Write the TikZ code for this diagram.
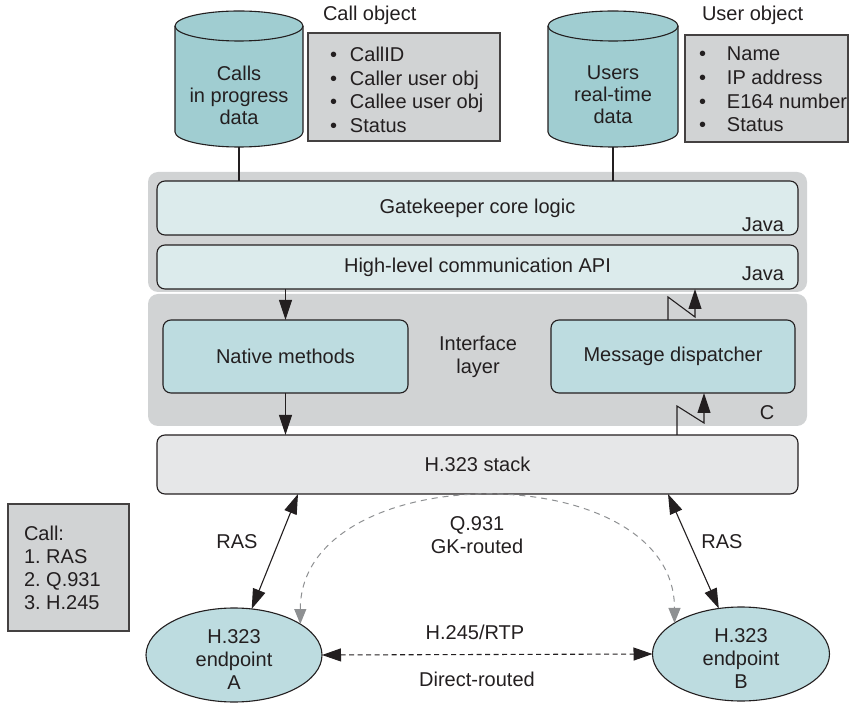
\documentclass[tikz,border=0pt]{standalone}
\usepackage{fontspec}
\setmainfont{Liberation Sans}
\usetikzlibrary{arrows.meta,shapes.geometric,calc}

\definecolor{ink}{HTML}{231F20}
\definecolor{panel}{HTML}{D1D3D4}
\definecolor{javabox}{HTML}{DCEBEC}
\definecolor{cbox}{HTML}{BDDCE0}
\definecolor{stackbox}{HTML}{E6E7E8}
\definecolor{drum}{HTML}{A0CDD1}
\definecolor{objbox}{HTML}{D1D3D4}
\definecolor{qgray}{HTML}{8E9092}

\begin{document}
\begin{tikzpicture}[x=1pt,y=1pt,
  font=\fontsize{20}{23}\selectfont, text=ink,
  every node/.style={inner sep=0pt, outer sep=0pt},
  line/.style={draw=ink, line width=1.1pt},
  panelbg/.style={fill=panel, rounded corners=10pt},
  layerbox/.style={draw=ink, line width=1.1pt, rounded corners=8pt},
  drumbody/.style={draw=ink, line width=1.1pt, fill=drum},
  listbox/.style={draw=ink!85, line width=1.1pt, fill=objbox},
  endpoint/.style={ellipse, draw=ink, line width=1.1pt, fill=cbox},
  tip/.style={Triangle[length=20pt,width=13pt]},
  arr/.style={line, -{Triangle[length=20pt,width=13pt]}},
  arrboth/.style={line, {Triangle[length=20pt,width=13pt]}-{Triangle[length=20pt,width=13pt]}},
  qarc/.style={draw=qgray, line width=1pt, dash pattern=on 6pt off 5pt,
    {Triangle[length=15pt,width=12pt]}-{Triangle[length=15pt,width=12pt]}},
  hdash/.style={draw=ink, line width=1.1pt, dash pattern=on 5pt off 3.5pt,
    {Triangle[length=19pt,width=13pt]}-{Triangle[length=19pt,width=13pt]}},
]
\useasboundingbox (0,0) rectangle (849,702);

% ---------- data stores (cylinders) ----------
\filldraw[drumbody] (175,676) -- (175,570)
  arc[start angle=180,end angle=360,x radius=64,y radius=15] -- (303,676)
  arc[start angle=0,end angle=180,x radius=64,y radius=15] -- cycle;
\draw[line] (175,676) arc[start angle=180,end angle=360,x radius=64,y radius=15];
\node[align=center, font=\fontsize{20}{22}\selectfont] (callsdb) at (239,607) {Calls\\in progress\\data};
\coordinate (callsbase) at (239,555);

\filldraw[drumbody] (548,676) -- (548,570)
  arc[start angle=180,end angle=360,x radius=65,y radius=15] -- (678,676)
  arc[start angle=0,end angle=180,x radius=65,y radius=15] -- cycle;
\draw[line] (548,676) arc[start angle=180,end angle=360,x radius=65,y radius=15];
\node[align=center, font=\fontsize{20}{22}\selectfont] (usersdb) at (613,607) {Users\\real-time\\data};
\coordinate (usersbase) at (613,555);

% ---------- object descriptions ----------
\node[anchor=west] (calltitle) at (323,687) {Call object};
\node[listbox, anchor=north west, minimum width=192, minimum height=108] (callobj) at (308,669) {};
\node[anchor=north west, align=left, font=\fontsize{20}{23.7}\selectfont] (calllist) at ($(callobj.north west)+(22,-14)$)
  {\makebox[20pt][l]{\textbullet}CallID\\
   \makebox[20pt][l]{\textbullet}Caller user obj\\
   \makebox[20pt][l]{\textbullet}Callee user obj\\
   \makebox[20pt][l]{\textbullet}Status};

\node[anchor=west] (usertitle) at (702,687) {User object};
\node[listbox, anchor=north west, minimum width=163, minimum height=107] (userobj) at (685,667) {};
\node[anchor=north west, align=left, font=\fontsize{20}{23.7}\selectfont] (userlist) at ($(userobj.north west)+(14,-12)$)
  {\makebox[28pt][l]{\textbullet}Name\\
   \makebox[28pt][l]{\textbullet}IP address\\
   \makebox[28pt][l]{\textbullet}E164 number\\
   \makebox[28pt][l]{\textbullet}Status};

% ---------- Java layer ----------
\node[panelbg, minimum width=659, minimum height=120] (javapanel) at (477.5,470) {};
\node[layerbox, fill=javabox, minimum width=641, minimum height=54] (gk) at (477.5,494) {Gatekeeper core logic};
\node[anchor=east] (gkjava) at (784,477) {Java};
\node[layerbox, fill=javabox, minimum width=641, minimum height=44] (hl) at (477.5,435) {High-level communication API};
\node[anchor=east] (hljava) at (784,428) {Java};

\draw[line] (callsbase) -- (callsbase |- gk.north);
\draw[line] (usersbase) -- (usersbase |- gk.north);

% ---------- interface layer (C) ----------
\node[panelbg, minimum width=659, minimum height=132] (cpanel) at (477.5,342) {};
\node[layerbox, fill=cbox, minimum width=245, minimum height=73] (nat) at (285.5,345.5) {Native methods};
\node[layerbox, fill=cbox, minimum width=244, minimum height=73] (disp) at (673,345.5) {Message dispatcher};
\node[align=center] (iface) at (478,345.5) {Interface\\layer};
\node (clabel) at (767,289) {C};

% ---------- H.323 stack ----------
\node[layerbox, fill=stackbox, minimum width=641, minimum height=59] (stack) at (477.5,237.5) {H.323 stack};

% calls down through the native methods
\draw[arr] (nat.north |- hl.south) -- (nat.north);
\draw[arr] (nat.south) -- (nat.south |- stack.north);

% asynchronous callbacks up through the dispatcher
\coordinate (upA) at ($(disp.north)+(-5,0)$);
\coordinate (upB) at ($(disp.north)+(22,0)$);
\draw[arr] (upA) -- ++(0,23) -- ++(27,-20) -- (upB |- hl.south);
\coordinate (loA) at ($(stack.north)+(199.5,0)$);
\coordinate (loB) at ($(stack.north)+(226.5,0)$);
\draw[arr] (loA) -- ++(0,29) -- ++(27,-17) -- (loB |- disp.south);

% ---------- endpoints ----------
\node[endpoint, minimum width=176, minimum height=94] (A) at (234,47) {};
\node[align=center] (Atext) at (234,42) {H.323\\endpoint\\A};
\node[endpoint, minimum width=177, minimum height=94] (B) at (741,48) {};
\node[align=center] (Btext) at (741,43) {H.323\\endpoint\\B};

\coordinate (rasL) at (298,0);
\coordinate (rasR) at (668,0);
\draw[arrboth] (stack.south -| rasL) -- (A.69);
\draw[arrboth] (stack.south -| rasR) -- (B.116);
\node (rasLlabel) at (237,160) {RAS};
\node (rasRlabel) at (722,160) {RAS};

\draw[qarc] (A.25) .. controls +(0,168) and +(0,168) .. (B.155);
\node[align=center] (qlabel) at (477,166.5) {Q.931\\GK-routed};

\draw[hdash] (A.east) -- (B.west);
\node (h245) at (475,70) {H.245/RTP};
\node (direct) at (477,23) {Direct-routed};

% ---------- call sequence ----------
\node[listbox, minimum width=121, minimum height=127] (callbox) at (68.5,134.5) {};
\node[anchor=west, align=left] (callsteps) at (24,134.5) {Call:\\1.\ RAS\\2.\ Q.931\\3.\ H.245};

\end{tikzpicture}
\end{document}
